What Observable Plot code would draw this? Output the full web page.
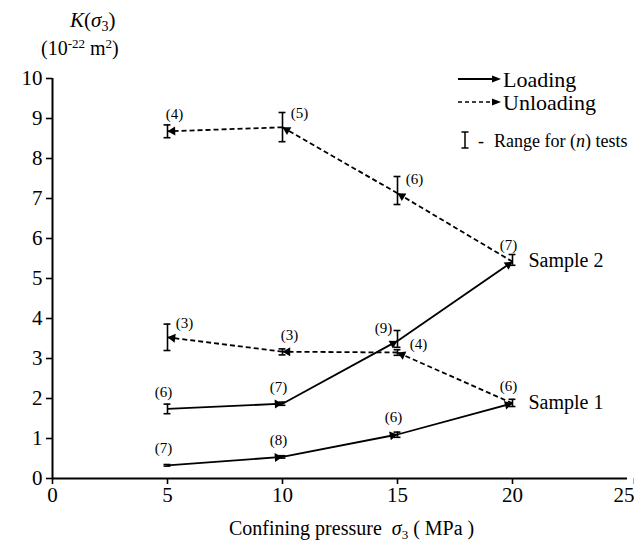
<!DOCTYPE html>
<html><head><meta charset="utf-8">
<script src="https://cdn.jsdelivr.net/npm/d3@7"></script>
<script src="https://cdn.jsdelivr.net/npm/@observablehq/plot@0.6"></script>
<style>
body{margin:0;background:#fff;font-family:"Liberation Serif","Times New Roman",Times,"DejaVu Serif",serif;color:#000;}
#wrap{position:relative;width:634px;height:541px;overflow:hidden;}
.abs{position:absolute;white-space:nowrap;line-height:1;}
i{font-style:italic;}
</style></head><body>
<div id="wrap">
  <div class="abs" style="left:70px;top:10px;font-size:21px;"><i>K</i>(<i>σ</i><sub style="font-size:14px;vertical-align:-4px">3</sub>)</div>
  <div class="abs" style="left:41px;top:37px;font-size:20px;">(10<sup style="font-size:13px;vertical-align:7px">-22</sup> m<sup style="font-size:13px;vertical-align:7px">2</sup>)</div>
  <div class="abs" style="left:229px;top:518px;font-size:20px;">Confining pressure&nbsp; <i>σ</i><sub style="font-size:13px;vertical-align:-4px">3</sub> (&nbsp;MPa )</div>
  <svg class="abs" style="left:450px;top:66px" width="184" height="90" font-family="Liberation Serif, Times New Roman, DejaVu Serif, serif">
    <line x1="8" y1="13" x2="44" y2="13" stroke="#000" stroke-width="1.8"/>
    <path d="M42,9.5L51,13L42,16.5Z" fill="#000"/>
    <text x="53" y="20.5" font-size="22">Loading</text>
    <line x1="8" y1="36" x2="44" y2="36" stroke="#000" stroke-width="1.6" stroke-dasharray="4,3"/>
    <path d="M42,32.5L51,36L42,39.5Z" fill="#000"/>
    <text x="53" y="43.5" font-size="22">Unloading</text>
    <line x1="15" y1="66" x2="15" y2="82" stroke="#000" stroke-width="1.5"/>
    <line x1="11.5" y1="66" x2="18.5" y2="66" stroke="#000" stroke-width="1.5"/>
    <line x1="11.5" y1="82" x2="18.5" y2="82" stroke="#000" stroke-width="1.5"/>
    <text x="28" y="81" font-size="18">-</text>
    <text x="44" y="81" font-size="18">Range for (<tspan font-style="italic">n</tspan>) tests</text>
  </svg>
</div>
<script>
// ---- data ----
const pressure = [5, 10, 15, 20];
const xTicks = [0, 5, 10, 15, 20];
const xTickEdge = [25];
const yTicks = [0, 1, 2, 3, 4, 5, 6, 7, 8, 9, 10];

const sample1Loading   = [0.33, 0.54, 1.10, 1.88];
const sample1Unloading = [3.53, 3.17, 3.15, 1.88];
const sample2Loading   = [1.74, 1.87, 3.44, 5.42];
const sample2Unloading = [8.68, 8.78, 7.13, 5.42];

const sample1LoadingLo   = [0.31, 0.51, 1.03, 1.80];
const sample1LoadingHi   = [0.35, 0.57, 1.16, 1.98];
const sample1UnloadingLo = [3.20, 3.09, 3.08];
const sample1UnloadingHi = [3.86, 3.24, 3.22];
const sample2LoadingLo   = [1.62, 1.83, 3.28, 5.33];
const sample2LoadingHi   = [1.86, 1.91, 3.70, 5.60];
const sample2UnloadingLo = [8.52, 8.42, 6.85];
const sample2UnloadingHi = [8.84, 9.15, 7.55];

const sample1LoadingN   = [7, 8, 6, 6];
const sample1UnloadingN = [3, 3, 4];
const sample2LoadingN   = [6, 7, 9, 7];
const sample2UnloadingN = [4, 5, 6];

const sampleNames = ["Sample 1", "Sample 2"];

// label placement (style)
const placeS1L = ["above", "above", "above", "above"];
const placeS1U = ["right", "aboveRight", "farRight"];
const placeS2L = ["above", "above", "left", "above"];
const placeS2U = ["aboveRight", "right", "right"];
const placements = {
  above: {dx: -4, dy: -17},
  aboveRight: {dx: 7, dy: -17},
  right: {dx: 17, dy: -14},
  farRight: {dx: 21, dy: -8},
  left: {dx: -14, dy: -13}
};

const serif = '"Liberation Serif", "Times New Roman", Times, "DejaVu Serif", serif';

// ---- derived tables ----
function loadSegs(v) {
  const out = [];
  for (let i = 0; i < v.length - 1; i++) out.push({x1: pressure[i], y1: v[i], x2: pressure[i + 1], y2: v[i + 1]});
  return out;
}
function unloadSegs(v) {
  const out = [];
  for (let i = v.length - 1; i > 0; i--) out.push({x1: pressure[i], y1: v[i], x2: pressure[i - 1], y2: v[i - 1]});
  return out;
}
const loadingSegs = [...loadSegs(sample1Loading), ...loadSegs(sample2Loading)];
const unloadingSegs = [...unloadSegs(sample1Unloading), ...unloadSegs(sample2Unloading)];

function errs(lo, hi, v) {
  return lo.map((l, i) => ({x: pressure[i], lo: l, hi: hi[i], v: v[i]}));
}
const errorBars = [
  ...errs(sample1LoadingLo, sample1LoadingHi, sample1Loading),
  ...errs(sample1UnloadingLo, sample1UnloadingHi, sample1Unloading),
  ...errs(sample2LoadingLo, sample2LoadingHi, sample2Loading),
  ...errs(sample2UnloadingLo, sample2UnloadingHi, sample2Unloading)
];

function labs(n, v, place) {
  return n.map((k, i) => ({x: pressure[i], y: v[i], text: `(${k})`, place: place[i]}));
}
const labels = [
  ...labs(sample1LoadingN, sample1Loading, placeS1L),
  ...labs(sample1UnloadingN, sample1Unloading, placeS1U),
  ...labs(sample2LoadingN, sample2Loading, placeS2L),
  ...labs(sample2UnloadingN, sample2Unloading, placeS2U)
];

const sampleEnds = [
  {x: pressure[3], y: sample1Loading[3], text: sampleNames[0]},
  {x: pressure[3], y: sample2Loading[3], text: sampleNames[1]}
];

const capHalf = 0.15;
const headR = 3.3;          // triangle "radius"
const tipDist = 2 * Math.sqrt(headR * headR * Math.PI / (Math.sqrt(3) * 3)); // centroid-to-tip px

const labelMarks = Object.entries(placements).map(([key, o]) =>
  Plot.text(labels.filter(d => d.place === key), {x: "x", y: "y", text: "text", dx: o.dx, dy: o.dy, fontSize: 15, fill: "#000"})
);

function makePlot(heads) {
  return Plot.plot({
    width: 634,
    height: 541,
    marginLeft: 52,
    marginRight: 7,
    marginTop: 78,
    marginBottom: 63,
    style: {fontFamily: serif, fontSize: "21px", color: "#000", background: "transparent", overflow: "visible"},
    x: {domain: [0, 25]},
    y: {domain: [0, 10]},
    marks: [
      Plot.axisX({ticks: xTicks, tickSize: 6, tickPadding: 3, label: null, strokeWidth: 1.6}),
      Plot.axisX({ticks: xTickEdge, tickSize: 6, tickPadding: 3, label: null, strokeWidth: 1.6, textAnchor: "end", dx: 7}),
      Plot.axisY({ticks: yTicks, tickSize: 6, tickPadding: 4, label: null, strokeWidth: 1.6}),
      Plot.ruleX([0], {y1: 0, y2: 10, strokeWidth: 2}),
      Plot.ruleY([0], {x1: 0, x2: 25, strokeWidth: 2}),
      Plot.link(loadingSegs, {x1: "x1", y1: "y1", x2: "x2", y2: "y2", stroke: "#000", strokeWidth: 1.8}),
      Plot.link(unloadingSegs, {x1: "x1", y1: "y1", x2: "x2", y2: "y2", stroke: "#000", strokeWidth: 1.8, strokeDasharray: "5,3"}),
      Plot.ruleX(errorBars, {x: "x", y1: "lo", y2: "hi", stroke: "#000", strokeWidth: 1.6}),
      Plot.ruleY(errorBars, {y: "lo", x1: d => d.x - capHalf, x2: d => d.x + capHalf, stroke: "#000", strokeWidth: 1.6}),
      Plot.ruleY(errorBars, {y: "hi", x1: d => d.x - capHalf, x2: d => d.x + capHalf, stroke: "#000", strokeWidth: 1.6}),
      Plot.dot(heads, {x: "cx", y: "cy", rotate: "angle", symbol: "triangle", r: headR, fill: "#000", stroke: "none"}),
      ...labelMarks,
      Plot.text(sampleEnds, {x: "x", y: "y", text: "text", dx: 16, dy: -1, textAnchor: "start", fontSize: 20, fill: "#000"})
    ]
  });
}

// first pass to read the scales, then place arrowheads along each segment direction
const probe = makePlot([]);
const sx = probe.scale("x"), sy = probe.scale("y");
const heads = [...loadingSegs, ...unloadingSegs].map(s => {
  const px1 = sx.apply(s.x1), py1 = sy.apply(s.y1), px2 = sx.apply(s.x2), py2 = sy.apply(s.y2);
  const L = Math.hypot(px2 - px1, py2 - py1);
  const ux = (px2 - px1) / L, uy = (py2 - py1) / L;
  return {
    cx: sx.invert(px2 - ux * tipDist),
    cy: sy.invert(py2 - uy * tipDist),
    angle: Math.atan2(ux, -uy) * 180 / Math.PI
  };
});

const svg = makePlot(heads);
svg.style.position = "absolute";
svg.style.left = "0";
svg.style.top = "0";
document.getElementById("wrap").prepend(svg);
</script>
</body></html>
